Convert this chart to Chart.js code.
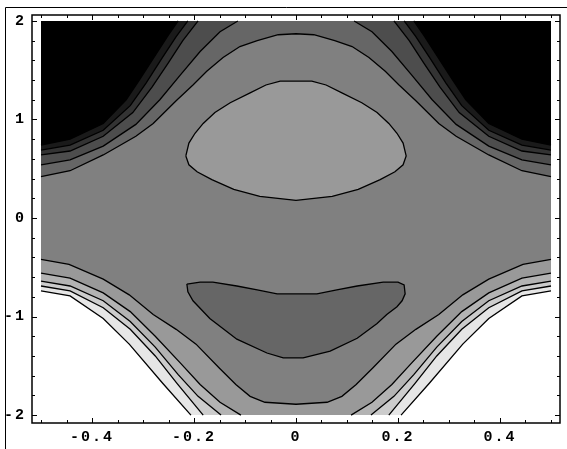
<!DOCTYPE html>
<html>
<head>
<meta charset="utf-8">
<script src="https://cdn.jsdelivr.net/npm/chart.js@4.4.0/dist/chart.umd.min.js"></script>
<style>
  html, body { margin: 0; padding: 0; background: #fff; }
  #wrap { position: relative; width: 567px; height: 449px; }
</style>
</head>
<body>
<div id="wrap"><canvas id="ContourChart" width="567" height="449"></canvas></div>
<script>
// plot domain
const xMin = -0.5, xMax = 0.5, yMin = -2, yMax = 2;

// ticks
const xTickValues = [-0.4, -0.2, 0, 0.2, 0.4];
const xTickLabels = ['-0.4', '-0.2', '0', '0.2', '0.4'];
const xMinorTicks = [-0.5, -0.45, -0.4, -0.35, -0.3, -0.25, -0.2, -0.15, -0.1, -0.05, 0, 0.05, 0.1, 0.15, 0.2, 0.25, 0.3, 0.35, 0.4, 0.45, 0.5];
const yTickValues = [-2, -1, 0, 1, 2];
const yTickLabels = ['-2', '-1', '0', '1', '2'];
const yMinorTicks = [-2, -1.8, -1.6, -1.4, -1.2, -1, -0.8, -0.6, -0.4, -0.2, 0, 0.2, 0.4, 0.6, 0.8, 1, 1.2, 1.4, 1.6, 1.8, 2];

// contour lines, [x, y]
const upperArch = [[-0.5,0.42],[-0.443,0.48],[-0.378,0.64],[-0.314,0.83],[-0.28,0.96],[-0.235,1.19],[-0.202,1.35],[-0.175,1.49],[-0.143,1.63],[-0.11,1.74],[-0.076,1.8],[-0.035,1.86],[0,1.87],[0.035,1.86],[0.076,1.8],[0.11,1.74],[0.143,1.63],[0.175,1.49],[0.202,1.35],[0.235,1.19],[0.28,0.96],[0.314,0.83],[0.378,0.64],[0.443,0.48],[0.5,0.42]];
const top2Left = [[-0.5,0.54],[-0.443,0.59],[-0.378,0.73],[-0.314,0.95],[-0.267,1.2],[-0.227,1.45],[-0.188,1.69],[-0.149,1.89],[-0.114,2]];
const top2Right = [[0.114,2],[0.149,1.89],[0.188,1.69],[0.227,1.45],[0.267,1.2],[0.314,0.95],[0.378,0.73],[0.443,0.59],[0.5,0.54]];
const top3Left = [[-0.5,0.64],[-0.443,0.68],[-0.378,0.83],[-0.32,1.07],[-0.282,1.33],[-0.251,1.57],[-0.222,1.8],[-0.192,2]];
const top3Right = [[0.192,2],[0.222,1.8],[0.251,1.57],[0.282,1.33],[0.32,1.07],[0.378,0.83],[0.443,0.68],[0.5,0.64]];
const top4Left = [[-0.5,0.69],[-0.443,0.74],[-0.378,0.89],[-0.325,1.14],[-0.294,1.37],[-0.263,1.62],[-0.235,1.84],[-0.212,2]];
const top4Right = [[0.212,2],[0.235,1.84],[0.263,1.62],[0.294,1.37],[0.325,1.14],[0.378,0.89],[0.443,0.74],[0.5,0.69]];
const top5Left = [[-0.5,0.74],[-0.443,0.8],[-0.378,0.96],[-0.333,1.2],[-0.306,1.41],[-0.276,1.65],[-0.251,1.85],[-0.231,2]];
const top5Right = [[0.231,2],[0.251,1.85],[0.276,1.65],[0.306,1.41],[0.333,1.2],[0.378,0.96],[0.443,0.8],[0.5,0.74]];

const lowerArch = [[-0.5,-0.42],[-0.445,-0.47],[-0.378,-0.62],[-0.327,-0.78],[-0.28,-0.98],[-0.235,-1.13],[-0.196,-1.28],[-0.151,-1.52],[-0.118,-1.69],[-0.09,-1.81],[-0.061,-1.87],[0,-1.89],[0.061,-1.87],[0.09,-1.81],[0.118,-1.69],[0.151,-1.52],[0.196,-1.28],[0.235,-1.13],[0.28,-0.98],[0.327,-0.78],[0.378,-0.62],[0.445,-0.47],[0.5,-0.42]];
const bot1Left = [[-0.5,-0.56],[-0.443,-0.61],[-0.378,-0.76],[-0.325,-0.95],[-0.276,-1.2],[-0.227,-1.47],[-0.188,-1.69],[-0.149,-1.87],[-0.108,-2]];
const bot1Right = [[0.108,-2],[0.149,-1.87],[0.188,-1.69],[0.227,-1.47],[0.276,-1.2],[0.325,-0.95],[0.378,-0.76],[0.443,-0.61],[0.5,-0.56]];
const bot2Left = [[-0.5,-0.64],[-0.443,-0.69],[-0.378,-0.84],[-0.325,-1.05],[-0.276,-1.31],[-0.231,-1.59],[-0.192,-1.81],[-0.147,-2]];
const bot2Right = [[0.147,-2],[0.192,-1.81],[0.231,-1.59],[0.276,-1.31],[0.325,-1.05],[0.378,-0.84],[0.443,-0.69],[0.5,-0.64]];
const bot3Left = [[-0.5,-0.69],[-0.443,-0.74],[-0.378,-0.91],[-0.325,-1.13],[-0.276,-1.4],[-0.233,-1.68],[-0.182,-2]];
const bot3Right = [[0.182,-2],[0.233,-1.68],[0.276,-1.4],[0.325,-1.13],[0.378,-0.91],[0.443,-0.74],[0.5,-0.69]];
const bot4Left = [[-0.5,-0.74],[-0.443,-0.79],[-0.378,-1.02],[-0.327,-1.28],[-0.261,-1.68],[-0.206,-2]];
const bot4Right = [[0.206,-2],[0.261,-1.68],[0.327,-1.28],[0.378,-1.02],[0.443,-0.79],[0.5,-0.74]];

// closed contours
const oval = [[-0.216,0.63],[-0.21,0.76],[-0.198,0.86],[-0.182,0.96],[-0.159,1.07],[-0.129,1.17],[-0.09,1.27],[-0.059,1.35],[-0.031,1.39],[0.031,1.39],[0.059,1.35],[0.09,1.27],[0.129,1.17],[0.159,1.07],[0.182,0.96],[0.198,0.86],[0.21,0.76],[0.216,0.63],[0.21,0.54],[0.194,0.47],[0.165,0.39],[0.122,0.29],[0.071,0.22],[0,0.18],[-0.071,0.22],[-0.122,0.29],[-0.165,0.39],[-0.194,0.47],[-0.21,0.54],[-0.216,0.63]];
const crescent = [[-0.214,-0.67],[-0.188,-0.65],[-0.163,-0.65],[-0.116,-0.69],[-0.076,-0.73],[-0.037,-0.77],[0.041,-0.77],[0.08,-0.73],[0.12,-0.69],[0.171,-0.65],[0.2,-0.65],[0.212,-0.68],[0.214,-0.77],[0.208,-0.84],[0.198,-0.9],[0.178,-0.98],[0.159,-1.07],[0.12,-1.22],[0.067,-1.35],[0.014,-1.42],[-0.025,-1.42],[-0.057,-1.37],[-0.116,-1.23],[-0.169,-1.02],[-0.202,-0.84],[-0.212,-0.75],[-0.214,-0.67]];

// gray levels
const grays = ['#000000', '#1a1a1a', '#333333', '#4d4d4d', '#666666', '#808080', '#999999', '#b3b3b3', '#cccccc', '#e6e6e6', '#ffffff'];

function contour(points, color, fill, width) {
    return {
        data: points.map(p => ({x: p[0], y: p[1]})),
        showLine: true,
        fill: fill,
        backgroundColor: color,
        borderColor: '#000',
        borderWidth: width === undefined ? 1.3 : width,
        pointRadius: 0
    };
}

// painted bottom to top
const datasets = [
    contour([[xMin, yMin], [xMax, yMin]], grays[5], {value: yMax}, 0),
    contour(upperArch, grays[4], {value: yMax}),
    contour(top2Left, grays[3], {value: yMax}),
    contour(top2Right, grays[3], {value: yMax}),
    contour(top3Left, grays[2], {value: yMax}),
    contour(top3Right, grays[2], {value: yMax}),
    contour(top4Left, grays[1], {value: yMax}),
    contour(top4Right, grays[1], {value: yMax}),
    contour(top5Left, grays[0], {value: yMax}),
    contour(top5Right, grays[0], {value: yMax}),
    contour(lowerArch, grays[6], {value: yMin}),
    contour(bot1Left, grays[7], {value: yMin}),
    contour(bot1Right, grays[7], {value: yMin}),
    contour(bot2Left, grays[8], {value: yMin}),
    contour(bot2Right, grays[8], {value: yMin}),
    contour(bot3Left, grays[9], {value: yMin}),
    contour(bot3Right, grays[9], {value: yMin}),
    contour(bot4Left, grays[10], {value: yMin}),
    contour(bot4Right, grays[10], {value: yMin}),
    contour(oval, grays[6], 'shape'),
    contour(crescent, grays[4], 'shape')
];
datasets.forEach((d, i) => { d.order = -i; });

// frame with inward ticks on all four sides
const framePlugin = {
    id: 'frame',
    beforeDraw(chart) {
        chart.ctx.letterSpacing = '2px';
    },
    afterDraw(chart) {
        const {ctx, chartArea: a, scales: {x, y}} = chart;
        ctx.save();
        ctx.letterSpacing = '0px';
        ctx.strokeStyle = '#000';
        ctx.lineWidth = 1.5;
        ctx.strokeRect(a.left, a.top, a.right - a.left, a.bottom - a.top);
        ctx.lineWidth = 1;
        ctx.beginPath();
        xMinorTicks.forEach(v => {
            const px = Math.round(x.getPixelForValue(v)) + 0.5;
            const len = xTickValues.some(t => Math.abs(t - v) < 1e-9) ? 5 : 3;
            ctx.moveTo(px, a.bottom); ctx.lineTo(px, a.bottom - len);
            ctx.moveTo(px, a.top); ctx.lineTo(px, a.top + len);
        });
        yMinorTicks.forEach(v => {
            const py = Math.round(y.getPixelForValue(v)) + 0.5;
            const len = yTickValues.some(t => Math.abs(t - v) < 1e-9) ? 5 : 3;
            ctx.moveTo(a.left, py); ctx.lineTo(a.left + len, py);
            ctx.moveTo(a.right, py); ctx.lineTo(a.right - len, py);
        });
        ctx.stroke();
        // picture border
        ctx.beginPath();
        ctx.moveTo(5.5, 449); ctx.lineTo(5.5, 7.5); ctx.lineTo(567, 7.5);
        ctx.stroke();
        ctx.restore();
    }
};

const tickFont = {family: 'Liberation Mono', size: 15, weight: 'bold'};

new Chart(document.getElementById('ContourChart'), {
    type: 'scatter',
    data: { datasets: datasets },
    options: {
        responsive: false,
        animation: false,
        devicePixelRatio: 1,
        layout: { padding: { top: 11, right: 7, left: 0, bottom: 0 } },
        plugins: {
            legend: { display: false },
            tooltip: { enabled: false },
            filler: { propagate: false }
        },
        elements: { line: { tension: 0 }, point: { radius: 0 } },
        scales: {
            x: {
                type: 'linear',
                min: -0.51765,
                max: 0.51765,
                grid: { display: false, drawTicks: false },
                border: { display: false },
                afterBuildTicks: s => { s.ticks = xTickValues.map(v => ({value: v})); },
                afterFit: s => { s.height = 26; },
                ticks: {
                    autoSkip: false,
                    maxRotation: 0,
                    padding: 5,
                    color: '#000',
                    font: tickFont,
                    callback: (v, i) => xTickLabels[i]
                }
            },
            y: {
                type: 'linear',
                min: -2.0804,
                max: 2.0603,
                grid: { display: false, drawTicks: false },
                border: { display: false },
                afterBuildTicks: s => { s.ticks = yTickValues.map(v => ({value: v})); },
                afterFit: s => { s.width = 32; },
                ticks: {
                    autoSkip: false,
                    padding: 6,
                    color: '#000',
                    font: tickFont,
                    callback: (v, i) => yTickLabels[i]
                }
            }
        }
    },
    plugins: [framePlugin]
});
</script>
</body>
</html>
